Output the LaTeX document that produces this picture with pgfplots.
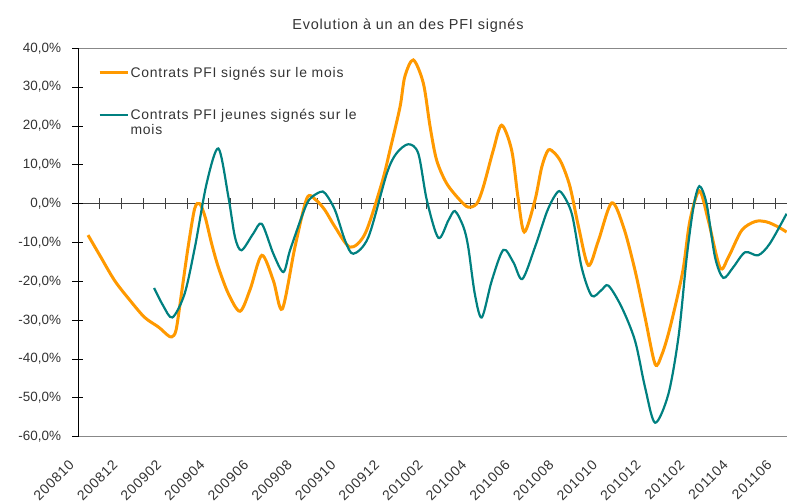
\documentclass[border=0pt]{standalone}
\usepackage{pgfplots}
\pgfplotsset{compat=1.18}
\usepackage{fontspec}
\setmainfont{Liberation Sans}[LetterSpace=5.5]
\newfontfamily\plainfont{Liberation Sans}
\definecolor{orangeS}{HTML}{FF9900}
\definecolor{tealS}{HTML}{008080}
\definecolor{txt}{HTML}{333333}
\definecolor{frame}{HTML}{888888}
\begin{document}
\begin{tikzpicture}
% zero line with monthly ticks
\begin{axis}[scale only axis, width=709bp, height=388.4bp,
  xmin=0, xmax=32.52, ymin=-60, ymax=40,
  axis x line=middle, axis y line=none,
  axis line style={-, black!75, line width=0.8bp},
  every inner x axis line/.append style={-},
  xtick={1,...,32}, xticklabels={}, ytick=\empty,
  major tick length=11bp, tick align=center,
  tick style={black!75, line width=0.8bp}]
\end{axis}
\begin{axis}[scale only axis, width=709bp, height=388.4bp,
  xmin=0, xmax=32.52, ymin=-60, ymax=40,
  axis x line*=box, axis y line*=left,
  x axis line style={frame, line width=1bp},
  y axis line style={black, line width=0.8bp},
  xtick={0,2,...,32},
  xticklabels={200810,200812,200902,200904,200906,200908,200910,200912,201002,201004,201006,201008,201010,201012,201102,201104,201106},
  xtick style={draw=none},
  xticklabel style={font=\fontsize{14}{14}\selectfont, text=txt, xshift=-10bp, yshift=-12bp, rotate=45, anchor=north east},
  ytick={-60,-50,...,40}, ytick pos=left,
  ytick style={black, line width=0.8bp},
  tick align=center, major tick length=11bp,
  yticklabel={\pgfmathprintnumber[fixed,fixed zerofill,precision=1,use comma,assume math mode=true]{\tick}\%},
  yticklabel style={font=\plainfont\fontsize{13.5}{14}\selectfont, text=txt, xshift=-8bp},
  legend cell align=left,
  legend style={draw=none, fill=none, at={(0.028,0.956)}, anchor=north west,
    font=\fontsize{14}{15}\selectfont, text=txt, row sep=27bp, inner sep=0pt,
    nodes={inner sep=1.5bp}},
  legend image code/.code={\draw[#1] (0bp,0bp) -- (28bp,0bp);},
  ]
\addplot[orangeS, line width=3bp, smooth] coordinates {
(0.46,-8.1) (1.0,-13.3) (1.68,-19.8) (2.4,-25.0) (3.06,-29.3) (3.7,-31.8) (4.1,-33.8) (4.3,-34.3)
(4.5,-32.5) (4.75,-23) (5.05,-11.2) (5.35,-1.3) (5.58,0) (5.83,-3.4) (6.13,-10.3) (6.44,-16.4)
(6.9,-23.2) (7.43,-27.7) (7.9,-22) (8.43,-13.3) (8.96,-19.8) (9.37,-27.1) (9.95,-11.2) (10.5,1.4)
(10.9,1.0) (11.33,-1.7) (11.79,-6.0) (12.48,-11.2) (13.17,-7.7) (13.93,5.2) (14.31,13.8) (14.77,24.9)
(14.99,32.7) (15.38,37.0) (15.84,31) (16.15,19.8) (16.45,11.2) (16.91,5.2) (17.52,0.9) (17.9,-0.9)
(18.29,0) (18.59,4.3) (19.05,13.8) (19.43,20.2) (19.89,13.8) (20.18,1.7) (20.47,-7.3) (20.96,0.9) (21.27,9.4)
(21.57,13.8) (21.88,12.9) (22.19,10.3) (22.57,4.3) (22.96,-6.0) (23.41,-15.9) (23.87,-9.5) (24.48,0.2)
(25.02,-6.0) (25.55,-17.2) (26.01,-29.3) (26.47,-41.3) (26.77,-39) (27.08,-33.5) (27.45,-25) (27.77,-16.4)
(28.07,-4.3) (28.5,3.3) (28.91,-4.3) (29.45,-16.5) (29.83,-13.8) (30.44,-6.9) (31.06,-4.6) (31.59,-4.7)
(32.12,-6.0) (32.5,-7.3)
};
\addlegendentry{Contrats PFI signés sur le mois}
\addplot[tealS, line width=2.2bp, smooth] coordinates {
(3.49,-21.7) (3.9,-26.2) (4.33,-29.3) (4.89,-23.2) (5.37,-11) (5.9,5.2) (6.44,14.2) (6.9,1.7)
(7.2,-8.6) (7.5,-12.0) (8.04,-7.7) (8.43,-5.2) (8.96,-12.9) (9.42,-17.6) (9.72,-12.1) (10.26,-3.4)
(10.6,1.0) (11.1,3.0) (11.35,2.6) (11.79,-1.7) (12.25,-9.5) (12.63,-12.9) (13.32,-8.6) (14.16,7.7)
(14.6,12.9) (15.15,15.3) (15.61,12.9) (16.0,0.9) (16.53,-8.8) (16.99,-4.3) (17.29,-1.9) (17.68,-6.0)
(17.9,-11.2) (18.2,-23.2) (18.52,-29.3) (18.98,-19.8) (19.51,-11.9) (19.97,-15.1) (20.38,-19.4) (20.96,-11.2)
(21.5,-2.2) (21.88,2.1) (22.15,3.0) (22.65,-2.6) (23.1,-16.4) (23.56,-23.7) (24.0,-22.3) (24.33,-21.1)
(24.94,-26.7) (25.55,-35.3) (26.01,-47.3) (26.47,-56.4) (27.08,-49.0) (27.55,-34) (27.92,-13.8) (28.23,-0.9)
(28.5,4.5) (28.83,0) (29.22,-13.8) (29.6,-19.1) (30.05,-16.4) (30.6,-12.5) (31.19,-13.3) (31.73,-10.3)
(32.5,-2.6)
};
\addlegendentry{\raisebox{0pt}[\height][0pt]{\vtop{\hbox{Contrats PFI jeunes signés sur le}\hbox{mois}}}}
\end{axis}
\node[font=\fontsize{14.5}{16}\selectfont, text=txt, anchor=base] at ([xshift=330bp, yshift=19bp]current axis.north west) {Evolution à un an des PFI signés};
\pgfresetboundingbox
\path[use as bounding box] ([xshift=-78bp,yshift=-66.3bp]current axis.south west) rectangle ([yshift=48.3bp]current axis.north east);
\end{tikzpicture}
\end{document}
